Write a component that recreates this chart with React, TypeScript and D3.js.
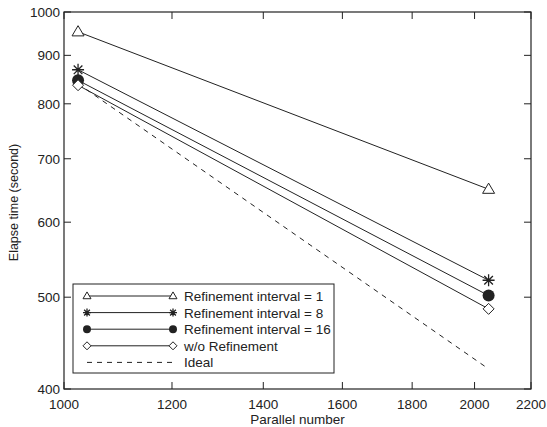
import React from 'react'
import * as d3 from 'd3'

const parallel = [1024, 2048]
const interval1 = [953, 650]
const interval8 = [869, 521]
const interval16 = [847, 502]
const noRefine = [837, 486]
const ideal = [840, 420]
const xTicks = [1000, 1200, 1400, 1600, 1800, 2000, 2200]
const yTicks = [400, 500, 600, 700, 800, 900, 1000]

const series = [
    { name: 'Refinement interval = 1', values: interval1, marker: 'triangle' },
    { name: 'Refinement interval = 8', values: interval8, marker: 'star' },
    { name: 'Refinement interval = 16', values: interval16, marker: 'circle' },
    { name: 'w/o Refinement', values: noRefine, marker: 'diamond' },
]

const W = 547
const H = 427
const margin = { left: 64, right: 16, top: 12, bottom: 38 }
const font = '"Liberation Sans", Arial, sans-serif'
const ink = '#222'

const Marker = ({ type, x, y, s }: { type: string; x: number; y: number; s: number }) => {
    if (type === 'triangle') {
        const h = s * 0.85
        return <path d={`M${x},${y - h * 0.6}L${x + s / 2},${y + h * 0.4}L${x - s / 2},${y + h * 0.4}Z`} fill="white" stroke={ink} strokeWidth={1} />
    }
    if (type === 'star') {
        const r = s / 2
        const d = r * 0.72
        return (
            <path d={`M${x - r},${y}H${x + r}M${x},${y - r}V${y + r}M${x - d},${y - d}L${x + d},${y + d}M${x - d},${y + d}L${x + d},${y - d}`} stroke={ink} strokeWidth={1.3} />
        )
    }
    if (type === 'circle') {
        return <circle cx={x} cy={y} r={s / 2} fill={ink} />
    }
    const r = s / 2
    return <path d={`M${x},${y - r}L${x + r},${y}L${x},${y + r}L${x - r},${y}Z`} fill="white" stroke={ink} strokeWidth={1} />
}

const App = () => {
    const x = d3.scaleLog().domain([1000, 2200]).range([margin.left, W - margin.right])
    const y = d3.scaleLog().domain([400, 1000]).range([H - margin.bottom, margin.top])
    const line = d3.line<number>()
        .x((d, i) => x(parallel[i]))
        .y(d => y(d))
    const [x0, x1] = x.range()
    const [y0, y1] = y.range()
    const tick = 7
    const legX = 73
    const legY = 284
    const rowH = 16.6

    return (
        <svg width={W} height={H} style={{ position: 'absolute', left: 0, top: 0 }} fontFamily={font}>
            <rect x={0} y={0} width={W} height={H} fill="white" />
            {series.map(s => (
                <path key={s.name} d={line(s.values) || ''} fill="none" stroke={ink} strokeWidth={1} />
            ))}
            <path d={line(ideal) || ''} fill="none" stroke={ink} strokeWidth={1} strokeDasharray="5,5" />
            {series.map(s => s.values.map((v, i) => (
                <Marker key={s.name + i} type={s.marker} x={x(parallel[i])} y={y(v)} s={s.marker === 'diamond' ? 11 : 12} />
            )))}

            <rect x={x0} y={y1} width={x1 - x0} height={y0 - y1} fill="none" stroke={ink} strokeWidth={1.2} />
            {xTicks.map(t => (
                <g key={t}>
                    <line x1={x(t)} x2={x(t)} y1={y0} y2={y0 - tick} stroke={ink} />
                    <line x1={x(t)} x2={x(t)} y1={y1} y2={y1 + tick} stroke={ink} />
                    <text x={x(t)} y={y0 + 20} textAnchor="middle" fontSize={13.5} fill={ink}>{t}</text>
                </g>
            ))}
            {yTicks.map(t => (
                <g key={t}>
                    <line x1={x0} x2={x0 + tick} y1={y(t)} y2={y(t)} stroke={ink} />
                    <line x1={x1} x2={x1 - tick} y1={y(t)} y2={y(t)} stroke={ink} />
                    <text x={x0 - 4} y={y(t) + 5} textAnchor="end" fontSize={13.5} fill={ink}>{t}</text>
                </g>
            ))}
            <text x={(x0 + x1) / 2} y={H - 3} textAnchor="middle" fontSize={13.5} fill={ink}>Parallel number</text>
            <text transform={`translate(18,${(y0 + y1) / 2 + 2}) rotate(-90)`} textAnchor="middle" fontSize={12.5} fill={ink}>Elapse time (second)</text>

            <rect x={legX} y={legY} width={261} height={89} fill="white" stroke={ink} strokeWidth={1} />
            {series.map((s, i) => {
                const ly = legY + 12 + i * rowH
                return (
                    <g key={s.name}>
                        <line x1={87} x2={173} y1={ly} y2={ly} stroke={ink} />
                        <Marker type={s.marker} x={87} y={ly} s={8} />
                        <Marker type={s.marker} x={173} y={ly} s={8} />
                        <text x={184} y={ly + 5} fontSize={13.5} fill={ink}>{s.name}</text>
                    </g>
                )
            })}
            <line x1={87} x2={173} y1={legY + 12 + 4 * rowH} y2={legY + 12 + 4 * rowH} stroke={ink} strokeDasharray="5,5" />
            <text x={184} y={legY + 17 + 4 * rowH} fontSize={13.5} fill={ink}>Ideal</text>
        </svg>
    )
}

export default App
